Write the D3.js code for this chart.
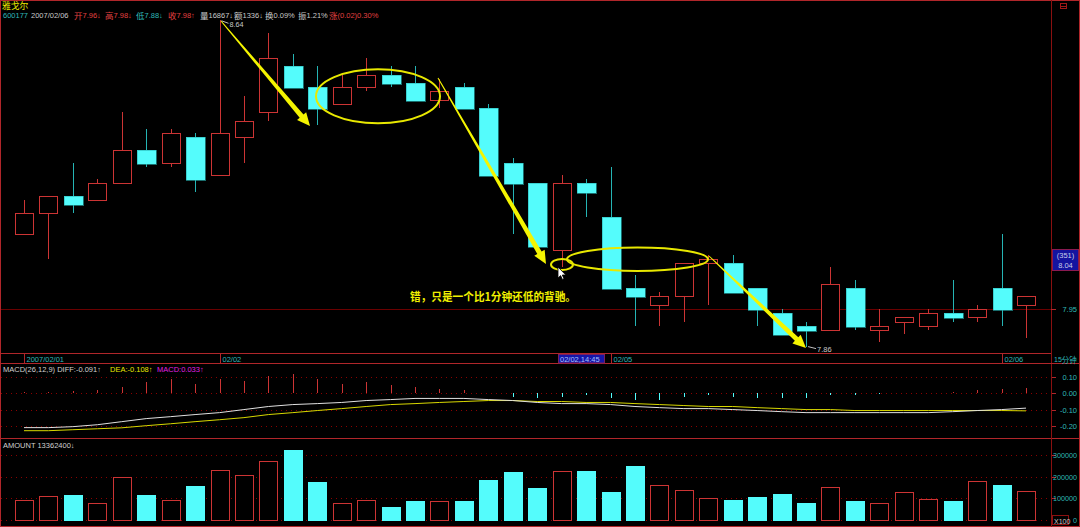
<!DOCTYPE html>
<html><head><meta charset="utf-8">
<script src="https://cdn.jsdelivr.net/npm/d3@7"></script>
<style>html,body{margin:0;padding:0;background:#000;overflow:hidden}</style>
</head><body><svg id="c" width="1080" height="527" xmlns="http://www.w3.org/2000/svg"></svg>
<script>
// ---------- data ----------
const opens  = [8.13,8.18,8.22,8.21,8.25,8.33,8.30,8.36,8.27,8.36,8.42,8.53,8.48,8.44,8.48,8.51,8.49,8.45,8.48,8.43,8.30,8.25,8.09,8.25,8.17,8.00,7.96,7.98,8.06,8.06,8.00,7.94,7.91,7.90,8.00,7.90,7.92,7.91,7.94,7.93,8.00,7.96];
const highs  = [8.21,8.22,8.30,8.26,8.42,8.38,8.38,8.37,8.64,8.46,8.61,8.56,8.53,8.51,8.55,8.53,8.53,8.50,8.49,8.44,8.31,8.25,8.27,8.26,8.29,8.03,7.99,8.06,8.08,8.08,8.00,7.95,7.92,8.05,8.02,7.95,7.93,7.95,8.02,7.96,8.13,7.98];
const lows   = [8.13,8.07,8.18,8.21,8.25,8.29,8.29,8.23,8.27,8.30,8.40,8.48,8.39,8.44,8.47,8.48,8.45,8.43,8.43,8.27,8.13,8.09,8.05,8.17,8.00,7.91,7.91,7.92,7.96,7.99,7.91,7.89,7.86,7.90,7.90,7.87,7.89,7.90,7.92,7.92,7.91,7.88];
const closes = [8.18,8.22,8.20,8.25,8.33,8.30,8.37,8.26,8.37,8.40,8.55,8.48,8.43,8.48,8.51,8.49,8.45,8.47,8.43,8.27,8.25,8.10,8.25,8.23,8.00,7.98,7.98,8.06,8.07,7.99,7.95,7.89,7.90,8.01,7.91,7.91,7.93,7.94,7.93,7.95,7.95,7.98];
const amounts = [92000,110000,115000,78000,198000,115000,92000,157000,230000,207000,272000,323000,175000,78000,92000,60000,88000,88000,88000,184000,221000,147000,226000,226000,129000,249000,161000,138000,101000,92000,106000,120000,78000,152000,88000,78000,129000,97000,88000,180000,161000,133624];
const diffs = [-0.212,-0.212,-0.206,-0.194,-0.175,-0.156,-0.144,-0.131,-0.119,-0.100,-0.081,-0.069,-0.063,-0.056,-0.044,-0.038,-0.031,-0.031,-0.031,-0.038,-0.044,-0.056,-0.063,-0.063,-0.069,-0.081,-0.088,-0.094,-0.094,-0.100,-0.106,-0.113,-0.119,-0.119,-0.119,-0.119,-0.119,-0.119,-0.113,-0.106,-0.100,-0.091];
const deas  = [-0.231,-0.231,-0.225,-0.219,-0.213,-0.200,-0.188,-0.175,-0.163,-0.150,-0.131,-0.119,-0.106,-0.094,-0.081,-0.069,-0.063,-0.056,-0.050,-0.044,-0.044,-0.050,-0.050,-0.056,-0.056,-0.063,-0.069,-0.075,-0.081,-0.081,-0.088,-0.094,-0.100,-0.100,-0.106,-0.106,-0.106,-0.106,-0.106,-0.106,-0.106,-0.108];
const macds = [0.010,0.010,0.015,0.020,0.040,0.070,0.090,0.060,0.090,0.080,0.110,0.120,0.090,0.060,0.070,0.050,0.040,0.030,0.020,0.000,-0.020,-0.030,-0.020,-0.010,-0.030,-0.040,-0.040,-0.020,-0.010,-0.020,-0.030,-0.030,-0.030,-0.010,-0.010,-0.005,0.000,0.005,0.010,0.020,0.030,0.033];
const dateTickIdx = [0, 8, 24, 40];
const dateTickLabels = ["2007/02/01", "02/02", "02/05", "02/06"];
const priceTicks = [7.95];
const macdTicks = [0.10, 0.00, -0.10, -0.20];
const macdTickLabels = ["0.10", "0.00", "-0.10", "-0.20"];
const amountTicks = [300000, 200000, 100000, 0];
const priceHigh = {i: 8, v: 8.64, label: "8.64"};
const priceLow = {i: 32, v: 7.86, label: "7.86"};
const cursorIdx = 22, cursorPrice = 8.04;

// ---------- setup ----------
const svg = d3.select("#c");
const RED = "#cc3434", CYAN = "#54fcfc", CYANW = "#25b4b4", TEAL = "#2fb8b8", BORDER = "#b0262a", DARK = "#6a0000";
const FONT = "'Liberation Sans', Arial, sans-serif";
const CJK = "'Noto Sans CJK SC', sans-serif";
svg.append("rect").attr("width",1080).attr("height",527).attr("fill","#000");

const n = opens.length;
const x = d3.scalePoint().domain(d3.range(n)).range([24, 1026]);
const bw = 18;
const yP = d3.scaleLinear().domain([7.86, 8.64]).range([346.6, 20.3]);
const yM = d3.scaleLinear().domain([-0.2, 0.1]).range([425.7, 377.3]);
const yV = d3.scaleLinear().domain([0, 300000]).range([519.5, 455]);

function mixedText(g, x0, y0, str, color, asz, csz, anchor) {
  const t = g.append("text").attr("x", x0).attr("y", y0).attr("fill", color)
    .attr("font-family", FONT).attr("font-size", asz).attr("dominant-baseline","central")
    .attr("text-anchor", anchor || "start");
  const runs = str.match(/[\u3000-\u9fff\uff00-\uffef]+|[^\u3000-\u9fff\uff00-\uffef]+/g);
  runs.forEach(r => {
    const cj = /[\u3000-\u9fff\uff00-\uffef]/.test(r);
    t.append("tspan").text(r).attr("font-family", cj ? CJK : FONT).attr("font-size", cj ? csz : asz);
  });
  return t;
}

const grid = svg.append("g").attr("shape-rendering","crispEdges");
priceTicks.forEach(p => {
  grid.append("line").attr("x1",1).attr("x2",1056).attr("y1",Math.round(yP(p))+0.5).attr("y2",Math.round(yP(p))+0.5).attr("stroke",DARK);
});
macdTicks.forEach(v => {
  grid.append("line").attr("x1",1).attr("x2",1051).attr("y1",Math.round(yM(v))+0.5).attr("y2",Math.round(yM(v))+0.5)
    .attr("stroke","#8a0000").attr("stroke-dasharray","1,4");
  grid.append("line").attr("x1",1051).attr("x2",1056).attr("y1",Math.round(yM(v))+0.5).attr("y2",Math.round(yM(v))+0.5).attr("stroke",BORDER);
});
amountTicks.forEach(v => {
  grid.append("line").attr("x1",1).attr("x2",1051).attr("y1",Math.round(yV(v))+0.5).attr("y2",Math.round(yV(v))+0.5)
    .attr("stroke","#8a0000").attr("stroke-dasharray","1,4");
  grid.append("line").attr("x1",1051).attr("x2",1056).attr("y1",Math.round(yV(v))+0.5).attr("y2",Math.round(yV(v))+0.5).attr("stroke",BORDER);
});

// ---------- candles ----------
const cg = svg.append("g").attr("shape-rendering","crispEdges");
d3.range(n).forEach(i => {
  const o = opens[i], c = closes[i], h = highs[i], l = lows[i];
  const cx = Math.round(x(i)) + 0.5;
  const up = c >= o;
  const top = Math.round(yP(Math.max(o,c))), bot = Math.round(yP(Math.min(o,c)));
  if (up) {
    if (h > c) cg.append("line").attr("x1",cx).attr("x2",cx).attr("y1",Math.round(yP(h))).attr("y2",top).attr("stroke",RED);
    if (l < o) cg.append("line").attr("x1",cx).attr("x2",cx).attr("y1",bot).attr("y2",Math.round(yP(l))).attr("stroke",RED);
    cg.append("rect").attr("x",Math.round(x(i)-bw/2)+0.5).attr("y",top+0.5).attr("width",bw).attr("height",Math.max(1,bot-top))
      .attr("fill","#000").attr("stroke",RED);
  } else {
    cg.append("line").attr("x1",cx).attr("x2",cx).attr("y1",Math.round(yP(h))).attr("y2",Math.round(yP(l))).attr("stroke",CYANW);
    cg.append("rect").attr("x",Math.round(x(i)-bw/2)).attr("y",top).attr("width",bw+1).attr("height",Math.max(1,bot-top+1))
      .attr("fill",CYAN).attr("stroke","#2ab8b8").attr("stroke-width",0.6);
  }
});

// ---------- volume ----------
const vg = svg.append("g").attr("shape-rendering","crispEdges");
d3.range(n).forEach(i => {
  const up = closes[i] >= opens[i];
  const t = Math.round(yV(amounts[i])), b = Math.round(yV(0));
  if (up) vg.append("rect").attr("x",Math.round(x(i)-bw/2)+0.5).attr("y",t+0.5).attr("width",bw).attr("height",b-t).attr("fill","#000").attr("stroke",RED);
  else vg.append("rect").attr("x",Math.round(x(i)-bw/2)).attr("y",t).attr("width",bw+1).attr("height",b-t+1).attr("fill",CYAN);
});

// ---------- macd ----------
const mg = svg.append("g");
d3.range(n).forEach(i => {
  const v = macds[i];
  if (v === 0) return;
  mg.append("line").attr("shape-rendering","crispEdges").attr("x1",Math.round(x(i))+0.5).attr("x2",Math.round(x(i))+0.5)
    .attr("y1",yM(0)).attr("y2",yM(v)).attr("stroke", v > 0 ? RED : CYAN);
});
const line = d3.line().x((d,i)=>x(i)).y(d=>yM(d));
mg.append("path").attr("d", line(deas)).attr("fill","none").attr("stroke","#d8d800").attr("stroke-width",1);
mg.append("path").attr("d", line(diffs)).attr("fill","none").attr("stroke","#e0e0e0").attr("stroke-width",1);

// ---------- borders ----------
const bg = svg.append("g").attr("shape-rendering","crispEdges");
[[0.5,1079.5,0.5,0.5],[0.5,1051,353.5,353.5],[0.5,1051,363.5,363.5],[0.5,1079.5,438.5,438.5],[0.5,1079.5,526.5,526.5]]
  .forEach(a => bg.append("line").attr("x1",a[0]).attr("x2",a[1]).attr("y1",a[2]).attr("y2",a[3]).attr("stroke",BORDER));
bg.append("line").attr("x1",1051.5).attr("x2",1051.5).attr("y1",0).attr("y2",527).attr("stroke","#8a1010");
bg.append("line").attr("x1",0.5).attr("x2",0.5).attr("y1",0).attr("y2",527).attr("stroke",BORDER);
bg.append("line").attr("x1",1079.5).attr("x2",1079.5).attr("y1",0).attr("y2",527).attr("stroke",BORDER);
bg.append("line").attr("x1",1051).attr("x2",1079).attr("y1",363.5).attr("y2",363.5).attr("stroke",BORDER);
bg.append("rect").attr("x",1060.5).attr("y",3.5).attr("width",6).attr("height",5).attr("fill","none").attr("stroke","#a01818");
bg.append("line").attr("x1",1061).attr("x2",1066).attr("y1",6.5).attr("y2",6.5).attr("stroke","#a01818");

// ---------- date axis ----------
const ag = svg.append("g");
dateTickIdx.forEach((idx, k) => {
  const xx = Math.round(x(idx)) + 0.5;
  ag.append("line").attr("shape-rendering","crispEdges").attr("x1",xx).attr("x2",xx).attr("y1",354).attr("y2",363).attr("stroke",BORDER);
  mixedText(ag, xx + 2, 359, dateTickLabels[k], TEAL, 7.5, 9);
});
const cbx = Math.round(x(cursorIdx)) - 4;
ag.append("rect").attr("x",cbx+0.5).attr("y",354.5).attr("width",46).attr("height",8.5).attr("fill","#1616a8").attr("stroke","#7a2060");
mixedText(ag, cbx + 2, 359, "02/02,14:45", "#a8c0ff", 7.5, 9);
mixedText(ag, 1054, 358.5, "15分钟", TEAL, 7, 7.5);

// ---------- right axis labels ----------
priceTicks.forEach(p => {
  ag.append("line").attr("shape-rendering","crispEdges").attr("x1",1051).attr("x2",1056).attr("y1",Math.round(yP(p))+0.5).attr("y2",Math.round(yP(p))+0.5).attr("stroke",BORDER);
  mixedText(ag, 1077, yP(p), d3.format(".2f")(p), TEAL, 7.5, 9, "end");
});
macdTicks.forEach((v,k) => mixedText(ag, 1077, yM(v), macdTickLabels[k], TEAL, 7.5, 9, "end"));
amountTicks.forEach(v => mixedText(ag, 1077, yV(v), String(v), TEAL, 7.2, 9, "end"));
ag.append("rect").attr("x",1052.5).attr("y",515.5).attr("width",16).attr("height",9).attr("fill","#000").attr("stroke","#8a1010");
mixedText(ag, 1054, 520.5, "X100", "#c8c8c8", 7, 9);
const cpy = yP(cursorPrice);
ag.append("rect").attr("x",1052.5).attr("y",Math.round(cpy)-21.5).attr("width",26).attr("height",21).attr("fill","#1414a0").attr("stroke","#8a1a50");
mixedText(ag, 1065.5, cpy - 16, "(351)", "#c8cce8", 7.5, 9, "middle");
mixedText(ag, 1065.5, cpy - 6.5, d3.format(".2f")(cursorPrice), "#c8cce8", 7.5, 9, "middle");

// ---------- headers ----------
const hg = svg.append("g");
mixedText(hg, 2, 5.2, "雅戈尔", "#e8e800", 7.5, 8.8);
const header = [
  [3,"600177",TEAL],[31,"2007/02/06","#c8c8c8"],[74,"开7.96↓","#e04040"],[105,"高7.98↓","#e04040"],
  [136,"低7.88↓",TEAL],[168,"收7.98↑","#e04040"],[200,"量16867↓","#c8c8c8"],[234,"额1336↓","#c8c8c8"],
  [265,"换0.09%","#c8c8c8"],[298,"振1.21%","#c8c8c8"],[329,"涨(0.02)0.30%","#e04040"]];
header.forEach(h => mixedText(hg, h[0], 14.6, h[1], h[2], 7.5, 8.5));
mixedText(hg, 3, 369, "MACD(26,12,9) DIFF:-0.091↑", "#d0d0d0", 7.5, 9);
mixedText(hg, 110, 369, "DEA:-0.108↑", "#e8e800", 7.5, 9);
mixedText(hg, 157, 369, "MACD:0.033↑", "#e020e0", 7.5, 9);
mixedText(hg, 3, 445, "AMOUNT 13362400↓", "#d0d0d0", 7.5, 9);

const hx = x(priceHigh.i), hy = yP(priceHigh.v);
hg.append("line").attr("x1",hx+2).attr("y1",hy+0.5).attr("x2",hx+9).attr("y2",hy+3).attr("stroke","#c0c0c0");
mixedText(hg, hx + 10, hy + 3.4, priceHigh.label, "#c8c8c8", 7.2, 9);
const lx = x(priceLow.i), ly = yP(priceLow.v);
hg.append("line").attr("x1",lx+2).attr("y1",ly).attr("x2",lx+10).attr("y2",ly+2).attr("stroke","#c0c0c0");
mixedText(hg, lx + 11, ly + 2, priceLow.label, "#c8c8c8", 7.5, 9);

// ---------- annotations ----------
const an = svg.append("g");
function taperArrow(x0,y0,x1,y1,w0,w1,hl,hw) {
  const dx=x1-x0, dy=y1-y0, L=Math.hypot(dx,dy), ux=dx/L, uy=dy/L, px=-uy, py=ux;
  const bx=x1-ux*hl, by=y1-uy*hl;
  const pts=[[x0+px*w0/2,y0+py*w0/2],[bx+px*w1/2,by+py*w1/2],[bx+px*hw,by+py*hw],[x1,y1],
             [bx-px*hw,by-py*hw],[bx-px*w1/2,by-py*w1/2],[x0-px*w0/2,y0-py*w0/2]];
  an.append("polygon").attr("points",pts.map(p=>p.join(",")).join(" ")).attr("fill","#f4f400");
}
taperArrow(221, 21, 310, 126, 1, 5, 13, 6);
taperArrow(438, 78, 546, 264, 1, 5, 13, 6);
taperArrow(709, 256, 806, 348, 1, 5, 13, 6);
[[378,96.3,62,27],[562,264.5,11,5.5],[637.5,259.3,70.5,11.7]].forEach(e =>
  an.append("ellipse").attr("cx",e[0]).attr("cy",e[1]).attr("rx",e[2]).attr("ry",e[3]).attr("fill","none").attr("stroke","#e8e800").attr("stroke-width",2));
an.append("text").attr("x",410).attr("y",296).attr("dominant-baseline","central").attr("fill","#f0f000")
  .attr("font-family",CJK).attr("font-weight","bold").attr("font-size",11).attr("textLength",166).attr("lengthAdjust","spacingAndGlyphs")
  .text("错，只是一个比1分钟还低的背驰。");
an.append("path").attr("transform","translate(558,267)")
  .attr("d","M0,0 L0,11 L2.6,8.6 L4.4,12.4 L6,11.7 L4.3,8 L7.8,8 Z").attr("fill","#fff").attr("stroke","#000").attr("stroke-width",0.8);
</script></body></html>
